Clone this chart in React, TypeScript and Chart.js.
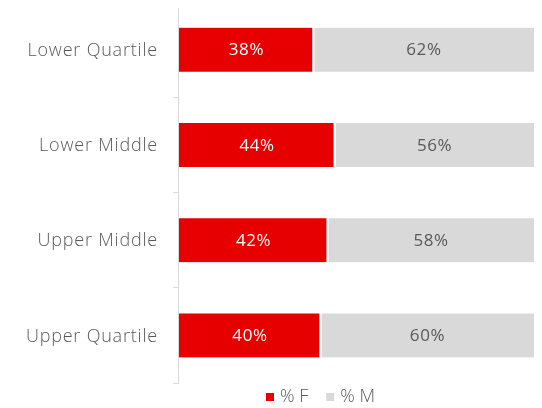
import React, { useEffect, useRef } from "react";
import { Chart, registerables } from "chart.js";

Chart.register(...registerables);

const categories = ["Lower Quartile", "Lower Middle", "Upper Middle", "Upper Quartile"];
const femaleValues = [38, 44, 42, 40];
const maleValues = [62, 56, 58, 60];
const seriesNames = ["% F", "% M"];
const seriesColors = ["#E60000", "#D9D9D9"];

const FONT = "'Open Sans', 'DejaVu Sans', sans-serif";
const TEXT = "#595959";
const AXIS = "#d9d9d9";

// Draws category labels, axis line, bar value labels and legend
const decorPlugin = {
  id: "decor",
  afterDraw(chart: any) {
    const ctx = chart.ctx;
    const yScale = chart.scales.y;
    const area = chart.chartArea;
    ctx.save();

    // axis line
    ctx.strokeStyle = AXIS;
    ctx.lineWidth = 1;
    ctx.beginPath();
    ctx.moveTo(yScale.right - 0.5, area.top + 6);
    ctx.lineTo(yScale.right - 0.5, area.bottom);
    ctx.stroke();

    // category labels
    ctx.letterSpacing = "0.8px";
    ctx.font = `300 18px ${FONT}`;
    ctx.fillStyle = TEXT;
    ctx.textAlign = "right";
    ctx.textBaseline = "middle";
    chart.data.labels.forEach((lab: string, i: number) => {
      ctx.fillText(lab, yScale.right - 21, yScale.getPixelForTick(i) + 1);
    });

    // bar value labels
    ctx.letterSpacing = "0.6px";
    ctx.font = `400 17px ${FONT}`;
    ctx.textAlign = "center";
    chart.data.datasets.forEach((ds: any, di: number) => {
      const meta = chart.getDatasetMeta(di);
      meta.data.forEach((bar: any, i: number) => {
        const x = (bar.x + bar.base) / 2;
        ctx.fillStyle = di === 0 ? "#ffffff" : TEXT;
        ctx.fillText(ds.data[i] + "%", x, bar.y + 1);
      });
    });

    // legend
    ctx.letterSpacing = "0px";
    ctx.font = `300 18px ${FONT}`;
    ctx.textAlign = "left";
    const box = 8;
    const gapBoxText = 6;
    const gapItems = 18;
    const widths = seriesNames.map((n) => ctx.measureText(n).width);
    const total = widths.reduce((s, w) => s + box + gapBoxText + w, 0) + gapItems * (seriesNames.length - 1);
    const centerX = (area.left + area.right) / 2 - 36;
    let x = centerX - total / 2;
    const ly = area.bottom + 14;
    seriesNames.forEach((n, i) => {
      ctx.fillStyle = seriesColors[i];
      ctx.fillRect(x, ly - box / 2, box, box);
      x += box + gapBoxText;
      ctx.fillStyle = TEXT;
      ctx.fillText(n, x, ly);
      x += widths[i] + gapItems;
    });

    ctx.restore();
  },
};

export default function App() {
  const ref = useRef<HTMLCanvasElement>(null);
  useEffect(() => {
    if (!ref.current) return;
    const chart = new Chart(ref.current, {
      type: "bar",
      data: {
        labels: categories,
        datasets: [
          {
            label: seriesNames[0],
            data: femaleValues,
            backgroundColor: seriesColors[0],
            borderColor: "#ffffff",
            borderWidth: { top: 0, bottom: 0, left: 0, right: 2 },
            borderSkipped: false,
            barThickness: 44,
          },
          {
            label: seriesNames[1],
            data: maleValues,
            backgroundColor: seriesColors[1],
            borderColor: "#ffffff",
            borderWidth: { top: 0, bottom: 0, left: 1, right: 0 },
            borderSkipped: false,
            barThickness: 44,
          },
        ],
      },
      options: {
        indexAxis: "y",
        responsive: false,
        animation: false,
        layout: { padding: { top: 2, right: 8, left: 0, bottom: 25 } },
        plugins: {
          legend: { display: false },
          tooltip: { enabled: false },
        },
        scales: {
          x: { stacked: true, min: 0, max: 100, display: false },
          y: {
            stacked: true,
            afterFit: (scale: any) => {
              scale.width = 179;
              scale.paddingTop = 0;
              scale.paddingBottom = 0;
            },
            grid: {
              drawOnChartArea: false,
              drawTicks: true,
              tickLength: 6,
              color: AXIS,
              tickColor: (c: any) => (c.index === 0 ? "rgba(0,0,0,0)" : AXIS),
              offset: true,
            },
            border: { display: false },
            ticks: { display: false },
          },
        },
      },
      plugins: [decorPlugin],
    });
    return () => chart.destroy();
  }, []);
  return (
    <div style={{ position: "fixed", left: 0, top: 0, width: 542, height: 408, background: "#fff" }}>
      <canvas ref={ref} width={542} height={408} />
    </div>
  );
}
